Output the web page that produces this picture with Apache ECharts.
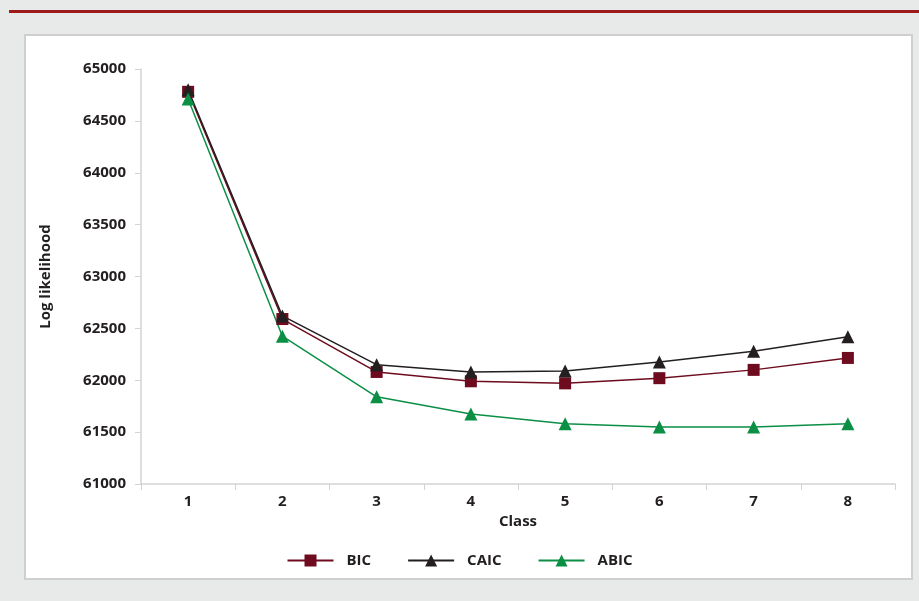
<!DOCTYPE html>
<html>
<head>
<meta charset="utf-8">
<script src="https://cdn.jsdelivr.net/npm/echarts@6/dist/echarts.min.js"></script>
<style>html,body{margin:0;padding:0;background:#e8e9e9;}#c{width:919px;height:601px;}</style>
</head>
<body>
<div id="c"></div>
<script>
var categories = ['1','2','3','4','5','6','7','8'];
var bic  = [64780, 62590, 62080, 61990, 61970, 62020, 62100, 62215];
var caic = [64800, 62620, 62150, 62080, 62090, 62175, 62280, 62420];
var abic = [64710, 62425, 61840, 61675, 61580, 61550, 61550, 61580];

var FONT = '"Open Sans", sans-serif';
var chart = echarts.init(document.getElementById('c'), null, {renderer: 'canvas'});
chart.setOption({
  backgroundColor: '#e8e9e9',
  animation: false,
  textStyle: {fontFamily: FONT},
  graphic: [
    {type: 'rect', z: -10, shape: {x: 9, y: 10, width: 910, height: 3}, style: {fill: '#9b1b1b'}},
    {type: 'rect', z: -10, shape: {x: 25, y: 35, width: 887, height: 544}, style: {fill: '#ffffff', stroke: '#cfcfcf', lineWidth: 2}}
  ],
  grid: {left: 141, right: 24, top: 69, bottom: 117},
  legend: {
    bottom: 28, left: 'center', itemWidth: 46, itemHeight: 15, itemGap: 36,
    textStyle: {fontFamily: FONT, fontWeight: 'bold', fontSize: 15, color: '#231f20', padding: [0,0,0,8]},
    data: ['BIC', 'CAIC', 'ABIC']
  },
  xAxis: {
    type: 'category', data: categories, boundaryGap: true,
    name: 'Class', nameLocation: 'middle', nameGap: 28,
    nameTextStyle: {fontFamily: FONT, fontWeight: 'bold', fontSize: 15, color: '#231f20'},
    axisLine: {lineStyle: {color: '#d3d3d3', width: 1.5}},
    axisTick: {show: true, length: 6, alignWithLabel: false, lineStyle: {color: '#d3d3d3'}},
    axisLabel: {fontFamily: FONT, fontWeight: 'bold', fontSize: 15, color: '#231f20', margin: 10}
  },
  yAxis: {
    type: 'value', min: 61000, max: 65000, interval: 500,
    name: 'Log likelihood', nameLocation: 'middle', nameGap: 88, nameRotate: 90,
    nameTextStyle: {fontFamily: FONT, fontWeight: 'bold', fontSize: 15, color: '#231f20'},
    axisLine: {show: true, lineStyle: {color: '#d3d3d3', width: 1.5}},
    axisTick: {show: true, length: 6, lineStyle: {color: '#d3d3d3'}},
    splitLine: {show: false},
    axisLabel: {fontFamily: FONT, fontWeight: 'bold', fontSize: 15, color: '#231f20', margin: 15,
      formatter: function (v) { return String(v); }}
  },
  series: [
    {name: 'BIC', type: 'line', data: bic, symbol: 'rect', symbolSize: 12,
     lineStyle: {color: '#6e0b1e', width: 1.5}, itemStyle: {color: '#6e0b1e'}},
    {name: 'CAIC', type: 'line', data: caic, symbol: 'triangle', symbolSize: 13,
     lineStyle: {color: '#231f20', width: 1.5}, itemStyle: {color: '#231f20'}},
    {name: 'ABIC', type: 'line', data: abic, symbol: 'triangle', symbolSize: 13,
     lineStyle: {color: '#0a8f45', width: 1.5}, itemStyle: {color: '#0a8f45'}}
  ]
});
</script>
</body>
</html>
